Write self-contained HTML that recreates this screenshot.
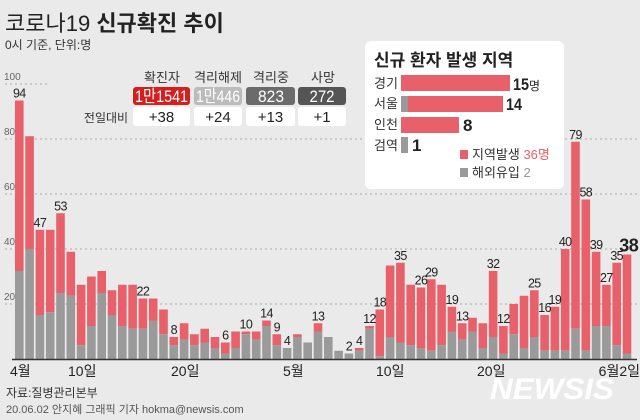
<!DOCTYPE html>
<html><head><meta charset="utf-8">
<style>
html,body{margin:0;padding:0;background:#eaeaea;}
svg{display:block;font-family:"Liberation Sans","Noto Sans CJK KR",sans-serif;}
.n{font-family:"Liberation Sans Narrow","Liberation Sans","Noto Sans CJK KR",sans-serif;}
</style></head><body>
<svg id="s" width="640" height="420" viewBox="0 0 640 420" xmlns="http://www.w3.org/2000/svg">
<rect width="640" height="420" fill="#eaeaea"/>
<text x="5" y="31" font-size="22" fill="#222">코로나19 <tspan font-weight="bold">신규확진 추이</tspan></text>
<text x="5" y="49" font-size="12" fill="#333">0시 기준, 단위:명</text>
<g stroke="#aaa" stroke-dasharray="2,3" stroke-width="1">
<line x1="5" y1="84" x2="50" y2="84"/>
<line x1="5" y1="139" x2="640" y2="139"/>
<line x1="5" y1="194" x2="640" y2="194"/>
<line x1="5" y1="249" x2="640" y2="249"/>
<line x1="5" y1="304" x2="640" y2="304"/>
</g>
<g font-size="10" fill="#666" class="n">
<text x="4" y="80">100</text><text x="4" y="135">80</text><text x="4" y="190">60</text><text x="4" y="245">40</text><text x="4" y="300">20</text>
</g>
<g id="bars"></g>
<g id="labs" class="n" font-size="12.5" fill="#222" text-anchor="middle" letter-spacing="-0.6"></g>
<line x1="12" y1="359.5" x2="637" y2="359.5" stroke="#333" stroke-width="1.5"/>
<g font-size="14" fill="#222" class="n">
<text x="10" y="376">4월</text><text x="68" y="376">10일</text><text x="171" y="376">20일</text>
<text x="283" y="376">5월</text><text x="376" y="376">10일</text><text x="477" y="376">20일</text><text x="640" y="376" text-anchor="end">6월2일</text>
</g>
<text x="6" y="397" font-size="12" fill="#333">자료:질병관리본부</text>
<text x="6" y="413" font-size="11" fill="#555">20.06.02 안지혜 그래픽 기자 hokma@newsis.com</text>
<text x="490" y="399" font-size="30" font-weight="bold" font-style="italic" fill="#fff" textLength="124" lengthAdjust="spacingAndGlyphs">NEWSIS</text>
<g font-size="13" fill="#333" text-anchor="middle">
<text x="162" y="82">확진자</text><text x="218" y="82">격리해제</text><text x="271" y="82">격리중</text><text x="323" y="82">사망</text>
<text x="106" y="122" font-size="12">전일대비</text>
</g>
<rect x="133" y="87" width="57" height="18" rx="3" fill="#d51e1e"/>
<rect x="194" y="87" width="48" height="18" rx="3" fill="#bbb"/>
<rect x="246" y="87" width="49" height="18" rx="3" fill="#6b6b6b"/>
<rect x="298" y="87" width="48" height="18" rx="3" fill="#555"/>
<g font-size="17" fill="#fff" class="n">
<text x="135" y="102" textLength="53" lengthAdjust="spacingAndGlyphs">1만1541</text>
<text x="196" y="102" textLength="44" lengthAdjust="spacingAndGlyphs">1만446</text>
<text x="258" y="102" textLength="26" lengthAdjust="spacingAndGlyphs">823</text>
<text x="309.5" y="102" textLength="25" lengthAdjust="spacingAndGlyphs">272</text>
</g>
<g fill="#fff"><rect x="133" y="107" width="57" height="19" rx="3"/><rect x="194" y="107" width="48" height="19" rx="3"/><rect x="246" y="107" width="49" height="19" rx="3"/><rect x="298" y="107" width="48" height="19" rx="3"/></g>
<g font-size="15" fill="#222" text-anchor="middle" class="n">
<text x="161.5" y="122">+38</text><text x="218" y="122">+24</text><text x="270.5" y="122">+13</text><text x="322" y="122">+1</text>
</g>
<rect x="365" y="41" width="199" height="148" rx="6" fill="#fff"/>
<text x="374" y="66" font-size="17" font-weight="bold" fill="#222">신규 환자 발생 지역</text>
<g font-size="13" fill="#333"><text x="374" y="88">경기</text><text x="374" y="108">서울</text><text x="374" y="129">인천</text><text x="374" y="150">검역</text></g>
<rect x="401" y="75" width="109" height="16" fill="#e8606a"/>
<rect x="401" y="96" width="7" height="16" fill="#9a9a9a"/><rect x="408" y="96" width="95" height="16" fill="#e8606a"/>
<rect x="401" y="117" width="58" height="16" fill="#e8606a"/>
<rect x="401" y="137" width="7" height="16" fill="#9a9a9a"/>
<g font-size="17" font-weight="bold" fill="#222" class="n"><text x="513" y="90" textLength="16" lengthAdjust="spacingAndGlyphs">15</text><text x="529" y="90" font-size="12" font-weight="normal">명</text><text x="506" y="110" textLength="16" lengthAdjust="spacingAndGlyphs">14</text><text x="463" y="131">8</text><text x="412" y="151">1</text></g>
<rect x="460" y="150" width="8" height="9" fill="#e8606a"/>
<text x="472" y="159" font-size="13" fill="#333">지역발생 <tspan fill="#e8606a">36명</tspan></text>
<rect x="460" y="168" width="8" height="9" fill="#9a9a9a"/>
<text x="472" y="177" font-size="13" fill="#333">해외유입 <tspan fill="#999">2</tspan></text>
</svg>
<script>
var d=[[94,32],[81,40],[47,16],[47,17],[53,24],[39,23],[27,5],[30,12],[32,24],[25,16],[27,12],[27,11],[22,11],[22,14],[18,9],[8,5],[13,7],[9,5],[11,6],[8,4],[6,2],[10,4],[10,9],[10,7],[14,12],[9,5],[4,4],[9,8],[6,6],[13,10],[8,8],[3,3],[2,2],[4,3],[12,11],[18,1],[34,8],[35,6],[27,5],[26,4],[29,3],[27,5],[19,10],[13,7],[15,10],[13,4],[32,8],[12,2],[20,9],[23,4],[25,8],[16,3],[19,3],[40,3],[79,11],[58,3],[39,12],[27,12],[35,5],[38,2]];
var lab=[1,3,5,13,16,21,23,25,26,27,30,33,34,35,36,38,40,41,43,44,47,48,51,52,53,54,55,56,57,58,59,60];
var NS="http://www.w3.org/2000/svg",B=document.getElementById("bars"),L=document.getElementById("labs");
function r(x,y,w,h,f){var e=document.createElementNS(NS,"rect");e.setAttribute("x",x);e.setAttribute("y",y);e.setAttribute("width",w);e.setAttribute("height",h);e.setAttribute("fill",f);B.appendChild(e);}
d.forEach(function(v,i){var x=15+i*10.3,t=v[0],g=v[1];
 if(t>g) r(x,359-2.75*t,8.6,2.75*(t-g),"#e8606a");
 r(x,359-2.75*g,8.6,2.75*g,"#9a9a9a");
 if(lab.indexOf(i+1)>=0){var e=document.createElementNS(NS,"text");e.setAttribute("x",x+4.3);e.setAttribute("y",359-2.75*t-3);e.textContent=t;
  if(i==59){e.setAttribute("font-size","18");e.setAttribute("font-weight","bold");e.setAttribute("x",x+6);}
  L.appendChild(e);}
});
</script>
</body></html>
